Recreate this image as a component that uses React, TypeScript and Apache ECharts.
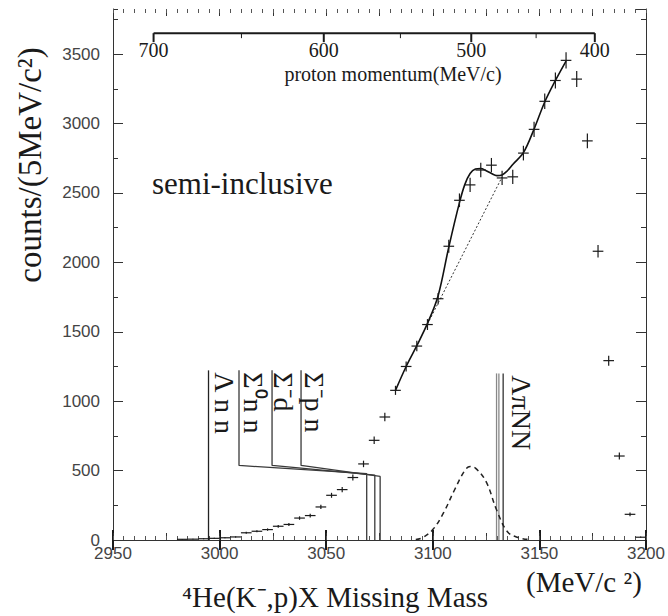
import React, { useEffect, useRef } from 'react';
import * as echarts from 'echarts';

// ---- data ----
const massBins = [2982.5, 2987.5, 2992.5, 2997.5, 3002.5, 3007.5, 3012.5, 3017.5, 3022.5, 3027.5, 3032.5, 3037.5, 3042.5, 3047.5, 3052.5, 3057.5, 3062.5, 3067.5, 3072.5, 3077.5, 3082.5, 3087.5, 3092.5, 3097.5, 3102.5, 3107.5, 3112.5, 3117.5, 3122.5, 3127.5, 3132.5, 3137.5, 3142.5, 3147.5, 3152.5, 3157.5, 3162.5, 3167.5, 3172.5, 3177.5, 3182.5, 3187.5, 3192.5, 3197.5];
const counts = [5, 6, 9, 12, 16, 22, 52, 63, 75, 99, 112, 158, 176, 238, 322, 363, 450, 548, 718, 886, 1078, 1250, 1397, 1552, 1738, 2116, 2447, 2558, 2665, 2700, 2608, 2616, 2787, 2958, 3160, 3310, 3455, 3320, 2875, 2080, 1292, 605, 185, 20];

const fitMass = [3082.5, 3087.5, 3092.5, 3097.5, 3102.5, 3107.5, 3112.5, 3115, 3117.5, 3120, 3122.5, 3125, 3127.5, 3130, 3132.5, 3135, 3137.5, 3142.5, 3147.5, 3152.5, 3157.5, 3162.5];
const fitCounts = [1078, 1250, 1400, 1560, 1760, 2110, 2430, 2560, 2640, 2672, 2676, 2660, 2640, 2625, 2630, 2660, 2705, 2790, 2960, 3155, 3310, 3450];

const bgMass = [3097.5, 3132.5];
const bgCounts = [1555, 2615];

const peakMass = [3092, 3095, 3100, 3105, 3110, 3115, 3117.5, 3120, 3125, 3130, 3135, 3140, 3145];
const peakCounts = [3, 15, 75, 195, 355, 500, 530, 518, 420, 214, 60, 18, 4];

const momentumTicks = [700, 650, 600, 550, 500, 450, 400];
const momentumLabelled = [700, 600, 500, 400];

const thresholdNames = ['Λ n n', 'Σ⁰n n', 'Σ⁻d', 'Σ⁻p n'];
const thresholdMass = [2994.8, 3069.0, 3072.8, 3075.3];
const thresholdKnee = [0, 478, 468, 458];
const labelLineMass = [2994.8, 3009.1, 3024.6, 3038.2];
const labelMass = [3002.1, 3016.1, 3030.2, 3044.7];
const lambdaPiNNMass = [3129.9, 3131.0, 3133.0];
const lambdaPiNNLabelMass = 3141.4;

const X_MIN = 2950, X_MAX = 3200;
const Y_MAX = 3825;
const LINE_TOP = 1222;
const KNEE_HIGH = 537;
const MOM_AXIS_Y = 3651;

// kinematics: stopped K- on 4He -> p + X
const M_K = 493.677, M_HE4 = 3727.379, M_P = 938.272;
function missingMass(p: number) {
  const e0 = M_K + M_HE4;
  const ex = e0 - Math.sqrt(M_P * M_P + p * p);
  return Math.sqrt(ex * ex - p * p);
}

const SERIF = 'Liberation Serif, Times New Roman, serif';
const SANS = 'Liberation Sans, Arial, sans-serif';
const INK = '#1a1a1a';

function xAxisSet(position: 'top' | 'bottom') {
  const base = {
    type: 'value', min: X_MIN, max: X_MAX, position,
    splitLine: { show: false },
  };
  return [
    {
      ...base, interval: 50,
      axisLine: { show: true, lineStyle: { color: '#333', width: 1 } },
      axisTick: { show: true, inside: true, length: 10, lineStyle: { color: INK, width: 2 } },
      axisLabel: position === 'bottom'
        ? { show: true, margin: 5, color: '#444', fontFamily: SANS, fontSize: 17, formatter: (v: number) => String(v) }
        : { show: false },
    },
    {
      ...base, interval: 25,
      axisLine: { show: false },
      axisTick: { show: true, inside: true, length: 7, lineStyle: { color: '#333', width: 1 } },
      axisLabel: { show: false },
    },
    {
      ...base, interval: 5,
      axisLine: { show: false },
      axisTick: { show: true, inside: true, length: 4, lineStyle: { color: '#555', width: 1 } },
      axisLabel: { show: false },
    },
  ];
}

function yAxisSet(position: 'left' | 'right') {
  const base = { type: 'value', min: 0, max: Y_MAX, position, splitLine: { show: false } };
  return [
    {
      ...base, interval: 500,
      axisLine: { show: true, lineStyle: { color: '#333', width: 1 } },
      axisTick: { show: true, inside: true, length: 10, lineStyle: { color: '#333', width: 1 } },
      axisLabel: position === 'left'
        ? {
            show: true, margin: 13, color: '#444', fontFamily: SANS, fontSize: 17,
            showMaxLabel: false,
            formatter: (v: number) => (v % 500 === 0 ? String(v) : ''),
          }
        : { show: false },
    },
    {
      ...base, interval: 250,
      axisLine: { show: false },
      axisTick: { show: true, inside: true, length: 5, lineStyle: { color: '#333', width: 1 } },
      axisLabel: { show: false },
    },
  ];
}

function buildOption() {
  const xAxes = [...xAxisSet('bottom'), ...xAxisSet('top')];
  const yAxes = [...yAxisSet('left'), ...yAxisSet('right')];

  const sigmaPaths = thresholdNames.map((_, i) =>
    i === 0
      ? [[thresholdMass[i], 0], [labelLineMass[i], LINE_TOP]]
      : [
          [thresholdMass[i], 0],
          [thresholdMass[i], thresholdKnee[i]],
          [labelLineMass[i], KNEE_HIGH],
          [labelLineMass[i], LINE_TOP],
        ]
  );

  const series: any[] = [];

  sigmaPaths.forEach((path, i) => {
    series.push({
      type: 'line', data: path, symbol: 'none', silent: true, z: 3,
      lineStyle: { color: i === 0 ? '#222' : '#3a3a3a', width: 1.3 },
    });
  });

  lambdaPiNNMass.forEach((m, i) => {
    series.push({
      type: 'line', data: [[m, 0], [m, 1200]], symbol: 'none', silent: true, z: 3,
      lineStyle: { color: i < 2 ? '#888' : '#333', width: 1.3 },
    });
  });

  // threshold labels
  series.push({
    type: 'custom', silent: true, z: 5,
    data: labelMass.map((m) => [m, 1208]).concat([[lambdaPiNNLabelMass, 1186]]),
    renderItem: (params: any, api: any) => {
      const p = api.coord([api.value(0), api.value(1)]);
      const idx = params.dataIndex;
      const text = idx < thresholdNames.length ? thresholdNames[idx] : 'ΛπNN';
      return {
        type: 'text', x: p[0], y: p[1], rotation: -Math.PI / 2,
        style: {
          text, fill: INK, font: `28px ${SERIF}`, align: 'left', verticalAlign: 'middle',
        },
      };
    },
  });

  // dashed peak
  series.push({
    type: 'line', data: peakMass.map((m, i) => [m, peakCounts[i]]), symbol: 'none', smooth: 0.4,
    silent: true, z: 4, lineStyle: { color: '#222', width: 1.5, type: [5, 4] },
  });

  // dotted background
  series.push({
    type: 'line', data: bgMass.map((m, i) => [m, bgCounts[i]]), symbol: 'none',
    silent: true, z: 4, lineStyle: { color: '#333', width: 1, type: [2, 2] },
  });

  // fit curve
  series.push({
    type: 'line', data: fitMass.map((m, i) => [m, fitCounts[i]]), symbol: 'none', smooth: 0.35,
    silent: true, z: 6, lineStyle: { color: '#111', width: 1.6 },
  });

  // data points with error bars
  series.push({
    type: 'custom', silent: true, z: 7,
    data: massBins.map((m, i) => [m, counts[i]]),
    renderItem: (params: any, api: any) => {
      const x = api.value(0), y = api.value(1);
      const e = Math.sqrt(y);
      const l = api.coord([x - 2.5, y]);
      const r = api.coord([x + 2.5, y]);
      const t = api.coord([x, y + e]);
      const b = api.coord([x, Math.max(0, y - e)]);
      return {
        type: 'group',
        children: [
          { type: 'line', shape: { x1: l[0], y1: l[1], x2: r[0], y2: r[1] }, style: { stroke: INK, lineWidth: 1.2 } },
          { type: 'line', shape: { x1: t[0], y1: t[1], x2: b[0], y2: b[1] }, style: { stroke: INK, lineWidth: 1.2 } },
        ],
      };
    },
  });

  // proton momentum axis (non-linear in missing mass)
  series.push({
    type: 'custom', silent: true, z: 8,
    data: [[3000, MOM_AXIS_Y]],
    renderItem: (params: any, api: any) => {
      const children: any[] = [];
      const a = api.coord([missingMass(momentumTicks[0]), MOM_AXIS_Y]);
      const b = api.coord([missingMass(momentumTicks[momentumTicks.length - 1]), MOM_AXIS_Y]);
      children.push({ type: 'line', shape: { x1: a[0], y1: a[1], x2: b[0], y2: b[1] }, style: { stroke: INK, lineWidth: 2 } });
      momentumTicks.forEach((p) => {
        const c = api.coord([missingMass(p), MOM_AXIS_Y]);
        const major = momentumLabelled.indexOf(p) >= 0;
        children.push({
          type: 'line', shape: { x1: c[0], y1: c[1], x2: c[0], y2: c[1] + (major ? 9 : 5) },
          style: { stroke: INK, lineWidth: major ? 2 : 1 },
        });
        if (major) {
          children.push({
            type: 'text', x: c[0], y: c[1] + 17,
            style: { text: String(p), fill: INK, font: `20px ${SERIF}`, align: 'center', verticalAlign: 'middle' },
          });
        }
      });
      return { type: 'group', children };
    },
  });

  return {
    animation: false,
    backgroundColor: '#fff',
    grid: { left: 113, right: 22, top: 9, bottom: 76, show: false },
    xAxis: xAxes,
    yAxis: yAxes,
    series,
    graphic: [
      {
        type: 'text', x: 30, y: 165, rotation: Math.PI / 2,
        style: { text: 'counts/(5MeV/c²)', fill: INK, font: `33px ${SERIF}`, align: 'center', verticalAlign: 'middle' },
      },
      {
        type: 'text', x: 152, y: 183,
        style: { text: 'semi-inclusive', fill: INK, font: `31px ${SERIF}`, align: 'left', verticalAlign: 'middle' },
      },
      {
        type: 'text', x: 393, y: 74,
        style: { text: 'proton momentum(MeV/c)', fill: INK, font: `20px ${SERIF}`, align: 'center', verticalAlign: 'middle' },
      },
      {
        type: 'text', x: 182, y: 597,
        style: { text: '⁴He(K⁻,p)X Missing Mass', fill: INK, font: `29px ${SERIF}`, align: 'left', verticalAlign: 'middle' },
      },
      {
        type: 'text', x: 526, y: 582,
        style: { text: '(MeV/c ²)', fill: INK, font: `29px ${SERIF}`, align: 'left', verticalAlign: 'middle' },
      },
    ],
  };
}

export default function App() {
  const ref = useRef<HTMLDivElement>(null);
  useEffect(() => {
    if (!ref.current) return;
    const chart = echarts.init(ref.current, null, { renderer: 'svg' });
    chart.setOption(buildOption() as any);
    return () => chart.dispose();
  }, []);
  return (
    <div
      ref={ref}
      style={{ position: 'absolute', left: 0, top: 0, width: 668, height: 616, background: '#fff' }}
    />
  );
}
